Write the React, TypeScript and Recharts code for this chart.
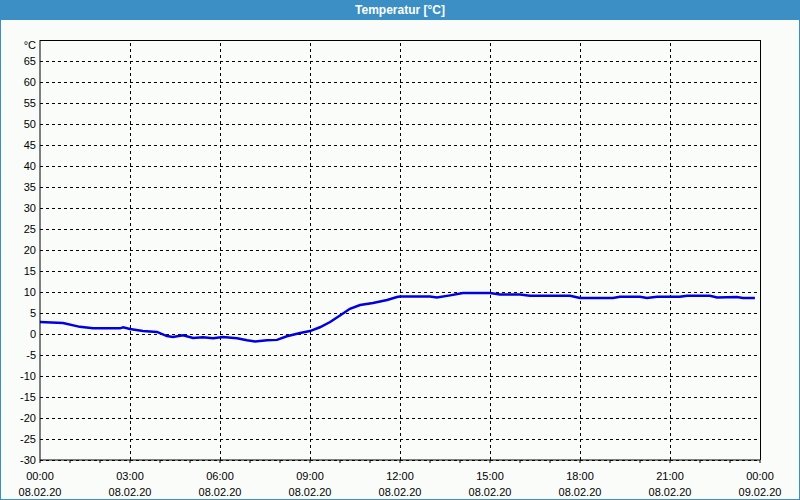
import React from "react";
import { LineChart, Line, XAxis, YAxis, CartesianGrid, ReferenceLine } from "recharts";

const times = [0, 0.77, 1.33, 1.77, 2.67, 2.77, 3.0, 3.43, 3.9, 4.23, 4.43, 4.77, 5.1, 5.43, 5.77, 6.1, 6.57, 6.9, 7.17, 7.57, 7.9, 8.23, 8.67, 9.0, 9.33, 9.67, 10.0, 10.33, 10.67, 11.1, 11.57, 11.9, 12.0, 13.0, 13.23, 13.67, 14.1, 15.0, 15.33, 16.0, 16.33, 17.67, 18.0, 19.1, 19.33, 20.0, 20.23, 20.57, 21.33, 21.57, 22.33, 22.57, 23.23, 23.43, 23.83];
const temps = [2.85, 2.6, 1.7, 1.35, 1.35, 1.6, 1.2, 0.7, 0.5, -0.5, -0.7, -0.3, -0.95, -0.8, -1.0, -0.7, -1.0, -1.5, -1.8, -1.5, -1.4, -0.55, 0.25, 0.7, 1.6, 2.85, 4.4, 6.0, 6.9, 7.4, 8.1, 8.8, 8.95, 8.95, 8.7, 9.2, 9.75, 9.75, 9.4, 9.4, 9.1, 9.1, 8.55, 8.55, 8.85, 8.85, 8.55, 8.85, 8.85, 9.1, 9.1, 8.7, 8.8, 8.55, 8.55];

const hourTicks = [0, 1, 2, 3, 4, 5, 6, 7, 8, 9, 10, 11, 12, 13, 14, 15, 16, 17, 18, 19, 20, 21, 22, 23, 24];
const majorTicks = [0, 3, 6, 9, 12, 15, 18, 21, 24];
const timeLabels = ["00:00", "03:00", "06:00", "09:00", "12:00", "15:00", "18:00", "21:00", "00:00"];
const dateLabels = ["08.02.20", "08.02.20", "08.02.20", "08.02.20", "08.02.20", "08.02.20", "08.02.20", "08.02.20", "09.02.20"];
const gridTimes = [3, 6, 9, 12, 15, 18, 21];
const yTicks = [-30, -25, -20, -15, -10, -5, 0, 5, 10, 15, 20, 25, 30, 35, 40, 45, 50, 55, 60, 65, 70];
const unitLabel = "°C";
const title = "Temperatur [°C]";

const data = times.map((t, i) => ({ t, v: temps[i] }));

const FONT = "'Liberation Sans', Arial, sans-serif";

const XTick = (props: any) => {
  const { x, y, payload } = props;
  const idx = majorTicks.indexOf(payload.value);
  if (idx < 0) return null;
  return (
    <g>
      <text x={x} y={y} textAnchor="middle" fontFamily={FONT} fontSize={11} fill="#000">
        <tspan x={x} dy={15}>{timeLabels[idx]}</tspan>
        <tspan x={x} dy={16}>{dateLabels[idx]}</tspan>
      </text>
    </g>
  );
};

const YTick = (props: any) => {
  const { x, y, payload } = props;
  const isTop = payload.value === 70;
  return (
    <text x={x} y={y + (isTop ? 5 : 0)} dy={4} textAnchor="end" fontFamily={FONT} fontSize={11} fill="#000">
      {isTop ? unitLabel : String(payload.value)}
    </text>
  );
};

export default function App() {
  return (
    <div style={{ position: "absolute", left: 0, top: 0, width: 800, height: 500, background: "#fafcfa", overflow: "hidden" }}>
      <LineChart width={800} height={500} data={data} margin={{ top: 40, right: 40, bottom: 0, left: 0 }}>
        <CartesianGrid vertical={false} stroke="#000" strokeDasharray="3 3" shapeRendering="crispEdges" />
        <XAxis
          dataKey="t"
          type="number"
          domain={[0, 24]}
          ticks={hourTicks}
          interval={0}
          height={40}
          tick={<XTick />}
          tickSize={3}
          tickLine={{ stroke: "#000" }}
          axisLine={{ stroke: "#000" }}
          tickMargin={2}
        />
        <YAxis
          type="number"
          domain={[-30, 70]}
          ticks={yTicks}
          interval={0}
          width={40}
          tickLine={false}
          tickSize={0}
          tickMargin={4}
          tick={<YTick />}
          axisLine={{ stroke: "#000" }}
        />
        {gridTimes.map((g) => (
          <ReferenceLine key={g} x={g} stroke="#000" strokeDasharray="3 3" shapeRendering="crispEdges" />
        ))}
        <ReferenceLine y={70} stroke="#000" shapeRendering="crispEdges" />
        <ReferenceLine x={24} stroke="#000" shapeRendering="crispEdges" />
        <Line type="linear" dataKey="v" stroke="#0000e0" strokeWidth={2.5} dot={false} isAnimationActive={false} />
      </LineChart>
      <div
        style={{
          position: "absolute",
          left: 0,
          top: 0,
          width: 800,
          height: 20,
          background: "#3b8fc4",
          color: "#fff",
          fontFamily: FONT,
          fontWeight: "bold",
          fontSize: 12,
          lineHeight: "20px",
          textAlign: "center",
        }}
      >
        {title}
      </div>
      <div
        style={{
          position: "absolute",
          left: 0,
          top: 0,
          width: 800,
          height: 500,
          boxSizing: "border-box",
          borderLeft: "1px solid #3b8fc4",
          borderRight: "1px solid #3b8fc4",
          borderBottom: "1px solid #3b8fc4",
          pointerEvents: "none",
        }}
      />
    </div>
  );
}
